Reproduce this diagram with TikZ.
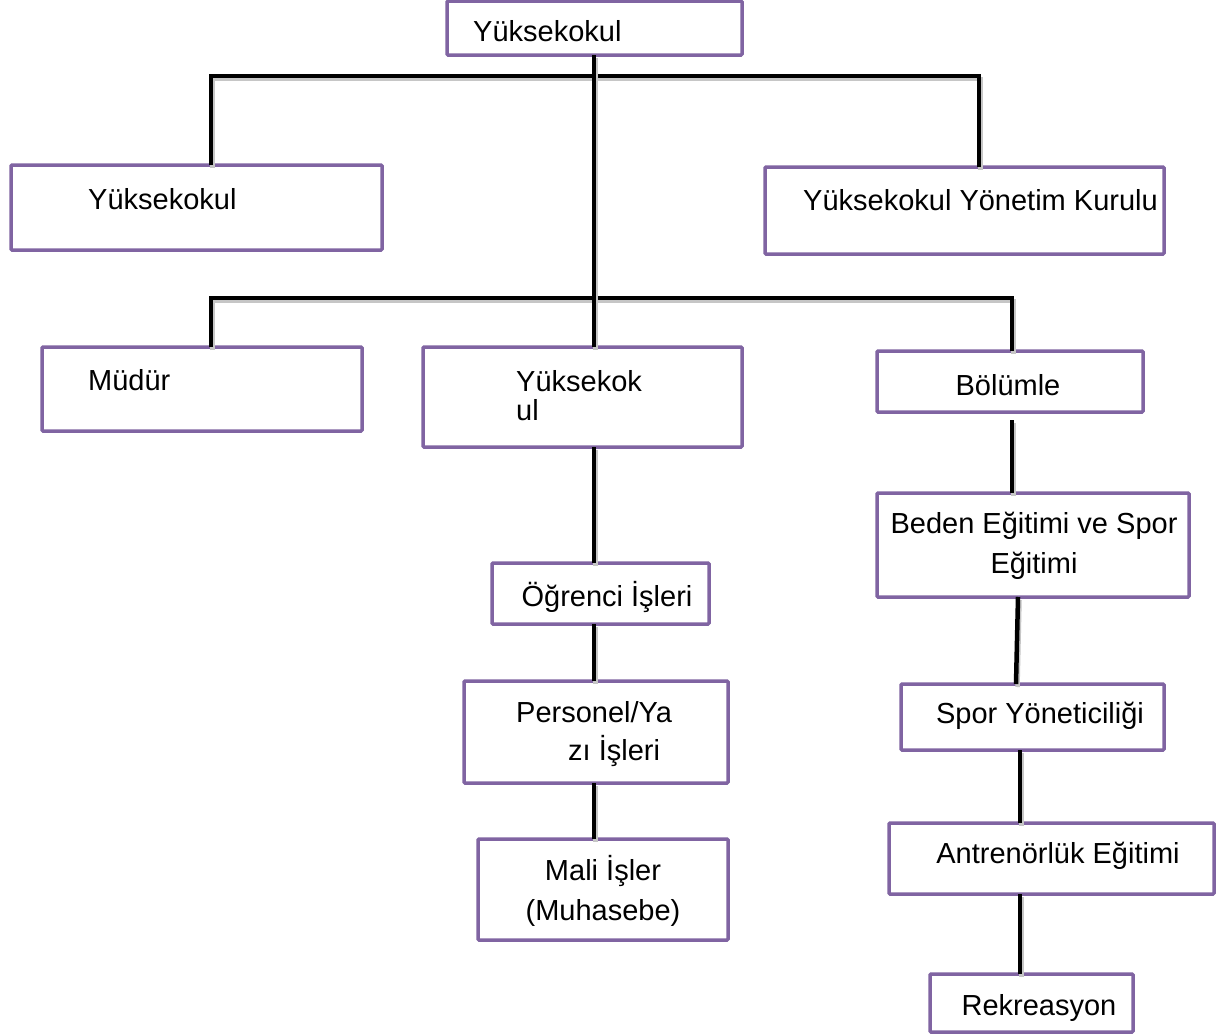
\documentclass[tikz,border=0pt]{standalone}
\usepackage{fontspec}
\setmainfont{Liberation Sans}
\begin{document}
\begin{tikzpicture}[x=1pt,y=-1pt,
  box/.style={draw=boxpurple, line width=3.5pt, fill=white, rounded corners=1pt,
    inner sep=0pt, outer sep=0pt, anchor=north west},
  lbl/.style={inner sep=0pt, font=\fontsize{29}{40}\selectfont},
  conn/.style={line width=4.5pt, black,
    preaction={draw=gray!45, line width=4.5pt, transform canvas={xshift=1.5pt,yshift=-3pt}}}]
\definecolor{boxpurple}{HTML}{8064A2}
\useasboundingbox (0,0) rectangle (1219,1036);
\fill[white] (0,0) rectangle (1219,1036);

% boxes
\node[box, minimum width=295pt, minimum height=54pt] (top) at (447,1) {};
\node[box, minimum width=371pt, minimum height=85pt] (yk) at (11,165) {};
\node[box, minimum width=399pt, minimum height=87pt] (ykyk) at (765,167) {};
\node[box, minimum width=320pt, minimum height=84pt] (mud) at (42,347) {};
\node[box, minimum width=319pt, minimum height=100pt] (yks) at (423,347) {};
\node[box, minimum width=266pt, minimum height=61pt] (bol) at (877,351) {};
\node[box, minimum width=312pt, minimum height=104pt] (bes) at (877,493) {};
\node[box, minimum width=263pt, minimum height=66pt] (spy) at (901,684) {};
\node[box, minimum width=325pt, minimum height=71pt] (ant) at (889,823) {};
\node[box, minimum width=203pt, minimum height=58pt] (rek) at (930,974) {};
\node[box, minimum width=217pt, minimum height=61pt] (ogr) at (492,563) {};
\node[box, minimum width=264pt, minimum height=102pt] (per) at (464,681) {};
\node[box, minimum width=250pt, minimum height=101pt] (mal) at (478,839) {};

% labels
\node[lbl, anchor=west] (ttop) at (473,31) {Yüksekokul};
\node[lbl, anchor=west] (tyk) at (88,199) {Yüksekokul};
\node[lbl, anchor=west] (tykyk) at (803,200) {Yüksekokul Yönetim Kurulu};
\node[lbl, anchor=west] (tmud) at (88,380) {Müdür};
\node[lbl, anchor=west, align=left, font=\fontsize{29}{29}\selectfont] (tyks) at (516,396) {Yüksekok\\ul};
\node[lbl] (tbol) at (1008,385) {Bölümle};
\node[lbl, align=center] (tbes) at (1034,546) {Beden Eğitimi ve Spor\\Eğitimi};
\node[lbl] (tspy) at (1040,716) {Spor Yöneticiliği};
\node[lbl] (tant) at (1058,856) {Antrenörlük Eğitimi};
\node[lbl] (trek) at (1039,1008) {Rekreasyon};
\node[lbl] (togr) at (607,597) {Öğrenci İşleri};
\node[lbl, anchor=west, align=left, font=\fontsize{29}{38}\selectfont] (tper) at (516,734) {Personel/Ya\\\hspace*{52pt}zı İşleri};
\node[lbl, align=center] (tmal) at (603,891) {Mali İşler\\(Muhasebe)};

% coordinates
\coordinate (b1L) at (211,76);
\coordinate (b1R) at (979,76);
\coordinate (b2L) at (211,298);
\coordinate (b2R) at (1012,298);
\coordinate (cx) at (594,0);
\coordinate (r1) at (1012,420);
\coordinate (r2) at (1018,0);
\coordinate (r3) at (1016,0);
\coordinate (r4) at (1020,0);

% connectors
\draw[conn] (b1L |- yk.north) -- (b1L) -- (b1R) -- (b1R |- ykyk.north);
\draw[conn] (b2L |- mud.north) -- (b2L) -- (b2R) -- (b2R |- bol.north);
\draw[conn] (cx |- top.south) -- (cx |- yks.north);
\draw[conn] (cx |- yks.south) -- (cx |- ogr.north);
\draw[conn] (cx |- ogr.south) -- (cx |- per.north);
\draw[conn] (cx |- per.south) -- (cx |- mal.north);
\draw[conn] (r1) -- (r1 |- bes.north);
\draw[conn] (r2 |- bes.south) -- (r3 |- spy.north);
\draw[conn] (r4 |- spy.south) -- (r4 |- ant.north);
\draw[conn] (r4 |- ant.south) -- (r4 |- rek.north);
\end{tikzpicture}
\end{document}
